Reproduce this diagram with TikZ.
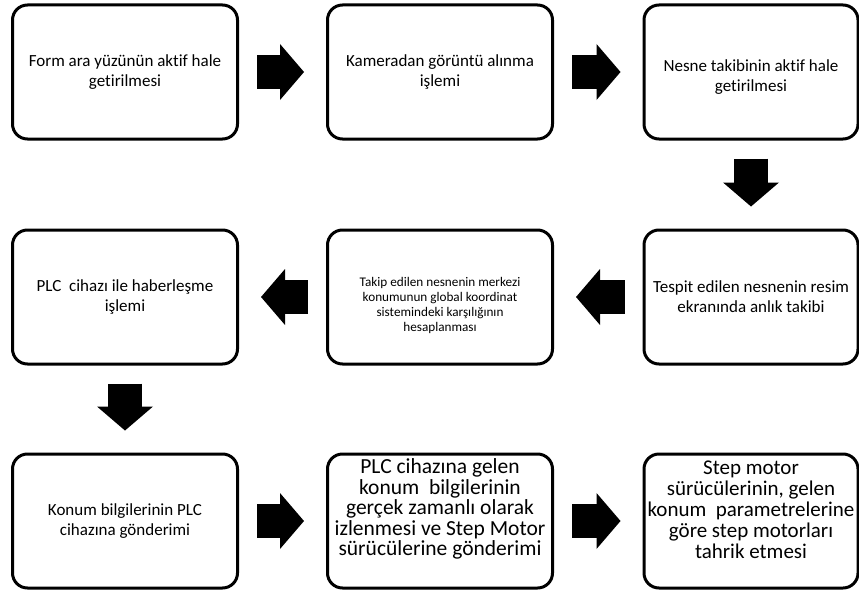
\documentclass[tikz,border=0pt]{standalone}
\usepackage{fontspec}
\setmainfont{Carlito}[Ligatures={TeX,NoCommon}]
\usetikzlibrary{arrows.meta,calc}
\tikzset{
  kutu/.style={draw=black,line width=3pt,rounded corners=15pt,fill=white,
               minimum height=134pt,inner sep=0pt},
  kutuyazi/.style={align=center,inner sep=0pt,text=black},
  blokok/.style={draw=black,line width=34pt,shorten <=18pt,shorten >=22pt,
                 -{Triangle[length=24pt,width=56pt,line width=0pt]}},
}
\newcommand{\orta}{\fontsize{17}{20}\selectfont}
\newcommand{\kucuk}{\fontsize{13.2}{15}\selectfont}
\newcommand{\iri}[2]{\fontsize{#1}{#2}\selectfont\setlength{\lineskiplimit}{-20pt}}
\newcommand{\akiskutu}[7]{%
  \node[kutu,minimum width=#4pt] (#1) at (#2,#3) {};
  \node[kutuyazi,font=#6] (#1-y) at ($(#1.center)+(0,#5)$) {#7};
}

\begin{document}
\begin{tikzpicture}[x=1pt,y=-1pt]
  \useasboundingbox (0,0) rectangle (859,594);
  % ust sira
  \akiskutu{k1}{125}{72}{225}{0}{\orta}{Form ara yüzünün aktif hale\\getirilmesi}
  \akiskutu{k2}{440}{72}{225}{0}{\orta}{Kameradan görüntü alınma\\işlemi}
  \akiskutu{k3}{751}{72}{214}{5}{\orta}{Nesne takibinin aktif hale\\getirilmesi}
  % orta sira
  \akiskutu{k4}{751}{297}{214}{0}{\orta}{Tespit edilen nesnenin resim\\ekranında anlık takibi}
  \akiskutu{k5}{440}{297}{225}{8}{\kucuk}{Takip edilen nesnenin merkezi\\konumunun global koordinat\\sistemindeki karşılığının\\hesaplanması}
  \akiskutu{k6}{125}{297}{225}{0}{\orta}{PLC~ cihazı ile haberleşme\\işlemi}
  % alt sira
  \akiskutu{k7}{125}{521}{225}{0}{\orta}{Konum bilgilerinin PLC\\cihazına gönderimi}
  \akiskutu{k8}{440}{521}{225}{-12}{\iri{21.5}{20.5}}{PLC cihazına gelen\\konum~ bilgilerinin\\gerçek zamanlı olarak\\izlenmesi ve Step Motor\\sürücülerine gönderimi}
  \akiskutu{k9}{751}{521}{214}{-11}{\iri{21}{21}}{Step motor\\sürücülerinin, gelen\\konum~ parametrelerine\\göre step motorları\\tahrik etmesi}
  % oklar
  \draw[blokok] (k1) -- (k2);
  \draw[blokok] (k2) -- (k3);
  \draw[blokok] (k3) -- (k4);
  \draw[blokok] (k4) -- (k5);
  \draw[blokok] (k5) -- (k6);
  \draw[blokok] (k6) -- (k7);
  \draw[blokok] (k7) -- (k8);
  \draw[blokok] (k8) -- (k9);
\end{tikzpicture}
\end{document}
